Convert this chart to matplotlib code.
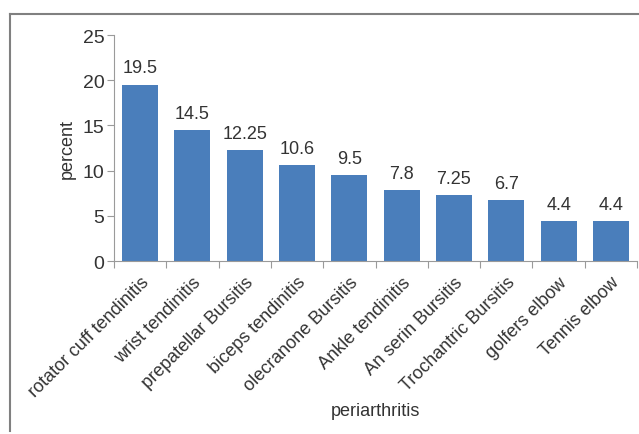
import numpy as np
import matplotlib.pyplot as plt
from matplotlib.lines import Line2D

categories = ['rotator cuff tendinitis', 'wrist tendinitis', 'prepatellar Bursitis',
              'biceps tendinitis', 'olecranone Bursitis', 'Ankle tendinitis',
              'An serin Bursitis', 'Trochantric Bursitis', 'golfers elbow', 'Tennis elbow']
values = [19.5, 14.5, 12.25, 10.6, 9.5, 7.8, 7.25, 6.7, 4.4, 4.4]
value_labels = ['19.5', '14.5', '12.25', '10.6', '9.5', '7.8', '7.25', '6.7', '4.4', '4.4']

plt.rcParams['font.family'] = ['Liberation Sans', 'DejaVu Sans']
txt = '#333333'
axcol = '#9a9a9a'

fig = plt.figure(figsize=(6.39, 4.35), dpi=100)
ax = fig.add_axes([0.1784, 0.3977, 0.8185, 0.5195])

x = np.arange(len(categories))
ax.bar(x, values, width=0.69, color='#4a7ebb')
for xi, v, lab in zip(x, values, value_labels):
    ax.annotate(lab, (xi, v), xytext=(0, 6), textcoords='offset points',
                ha='center', va='bottom', fontsize=13, color=txt)

ax.set_xlim(-0.5, len(categories) - 0.5)
ax.set_ylim(0, 25)
ax.set_yticks([0, 5, 10, 15, 20, 25])
ax.set_xticks(np.arange(len(categories) + 1) - 0.5)
ax.set_xticklabels([])
ax.set_xticks(x, minor=True)
ax.set_xticklabels(categories, minor=True, rotation=45, ha='right',
                   rotation_mode='anchor', fontsize=13, color=txt)
ax.tick_params(axis='x', which='minor', length=0, pad=9)
ax.tick_params(axis='x', which='major', length=5, color=axcol)
ax.tick_params(axis='y', length=5, color=axcol, labelsize=14, labelcolor=txt, pad=2)

for s in ['top', 'right']:
    ax.spines[s].set_visible(False)
for s in ['left', 'bottom']:
    ax.spines[s].set_color(axcol)

ax.set_ylabel('percent', fontsize=13, color=txt, labelpad=5)
fig.text(0.587, 0.053, 'periarthritis', ha='center', va='center', fontsize=13, color=txt)

# outer frame (top and left edges visible)
fig.add_artist(Line2D([10/639, 1.0], [1 - 15/435, 1 - 15/435], transform=fig.transFigure,
                      color='#808080', lw=1.5))
fig.add_artist(Line2D([10/639, 10/639], [1 - 15/435, 1 - 432/435], transform=fig.transFigure,
                      color='#808080', lw=1.5))

fig.savefig('out.png', dpi=100)
